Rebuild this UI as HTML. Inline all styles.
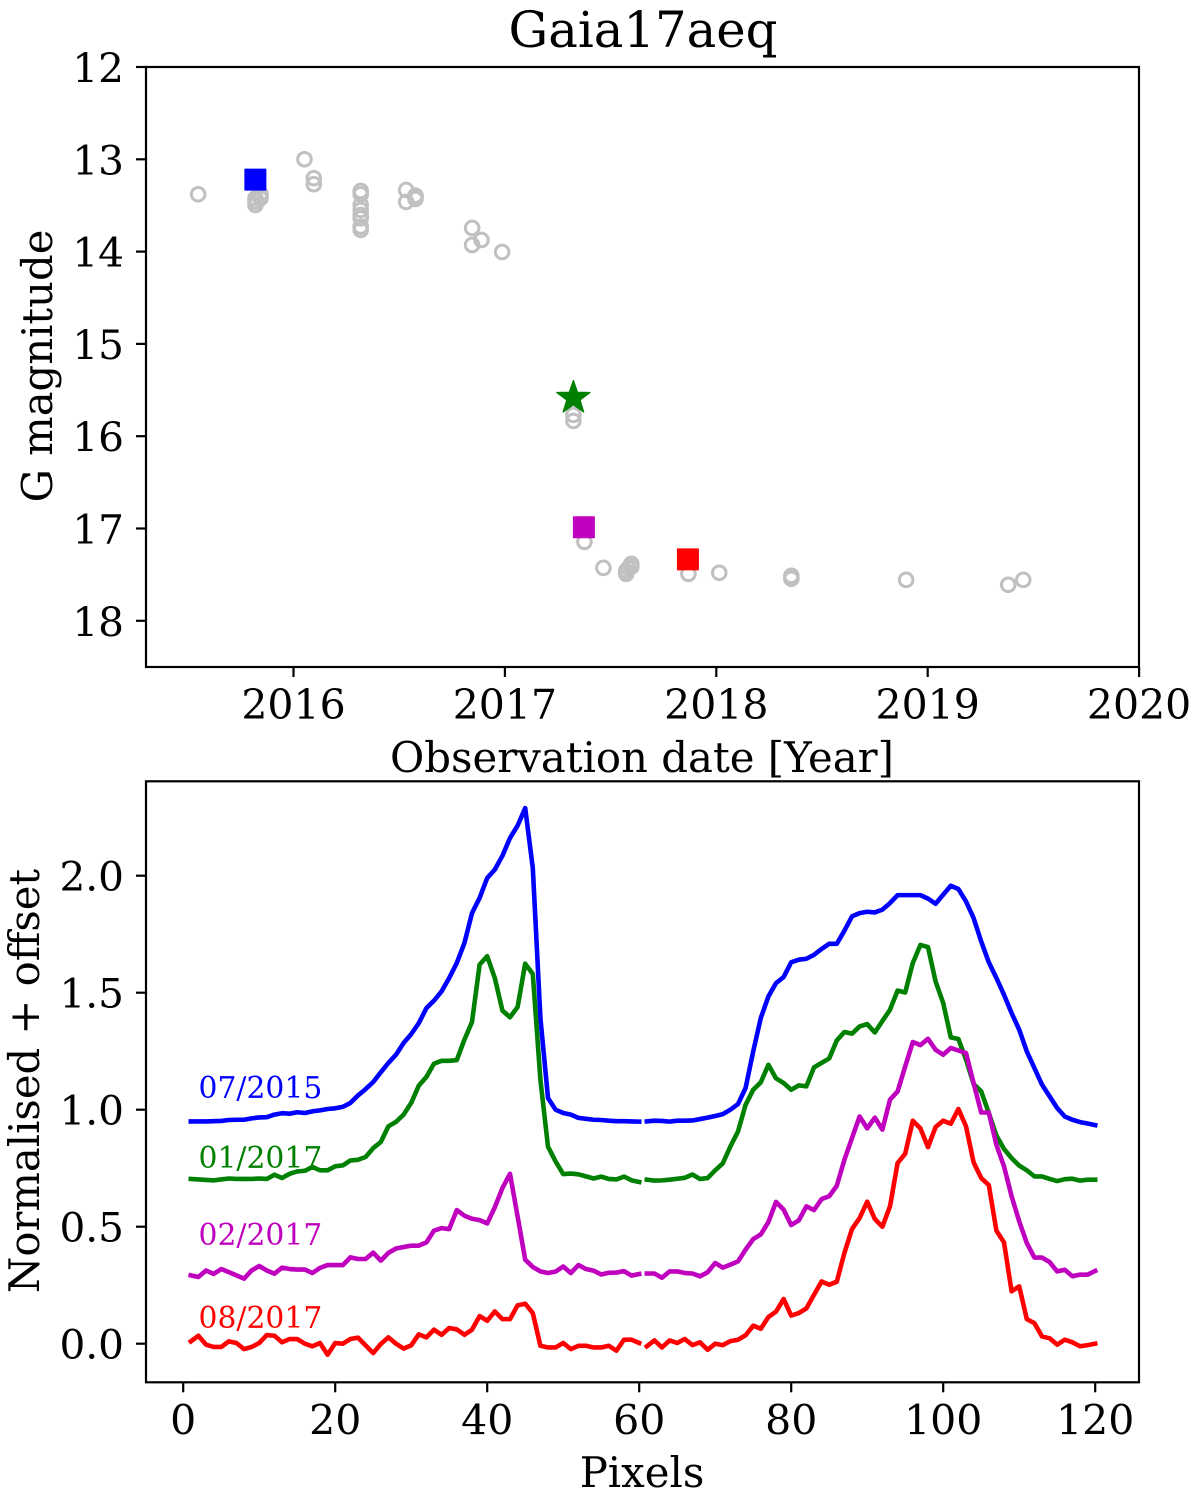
<!DOCTYPE html>
<html lang="en">
<head>
<meta charset="utf-8">
<title>Gaia17aeq</title>
<style>
html,body{margin:0;padding:0;background:#fff;}
svg{display:block;}
text{font-family:"DejaVu Serif","Liberation Serif",serif;fill:#000;}
</style>
</head>
<body>
<svg id="figure" width="1200" height="1494" viewBox="0 0 1200 1494" xmlns="http://www.w3.org/2000/svg">
  <rect x="0" y="0" width="1200" height="1494" fill="#fff"/>
  <text x="643" y="47" font-size="49.7" text-anchor="middle">Gaia17aeq</text>
  <text transform="translate(52,366) rotate(-90)" font-size="41.7" text-anchor="middle">G magnitude</text>
  <text x="642" y="772" font-size="41.8" text-anchor="middle">Observation date [Year]</text>
  <text transform="translate(39,1081) rotate(-90)" font-size="41.7" text-anchor="middle">Normalised + offset</text>
  <text x="642" y="1487" font-size="41.8" text-anchor="middle">Pixels</text>
  <g id="top-panel"></g>
  <g id="bottom-panel"></g>
  <text x="198.5" y="1098" font-size="29.8" style="fill:#0000ff">07/2015</text>
  <text x="198.5" y="1168" font-size="29.8" style="fill:#008000">01/2017</text>
  <text x="198.5" y="1245" font-size="29.8" style="fill:#bf00bf">02/2017</text>
  <text x="198.5" y="1328" font-size="29.8" style="fill:#ff0000">08/2017</text>
</svg>
<script>
// Light curve data
const obsDates = [2015.549,2015.82,2015.82,2015.82,2015.844,2015.844,2015.844,2016.052,2016.096,2016.096,2016.318,2016.318,2016.318,2016.318,2016.318,2016.318,2016.318,2016.318,2016.533,2016.533,2016.577,2016.577,2016.577,2016.845,2016.845,2016.889,2016.987,2017.324,2017.324,2017.376,2017.466,2017.574,2017.574,2017.584,2017.598,2017.598,2017.868,2018.014,2018.355,2018.355,2018.898,2019.381,2019.452];
const obsMags = [13.379,13.495,13.459,13.422,13.422,13.405,13.375,13.0,13.205,13.27,13.343,13.379,13.495,13.549,13.603,13.639,13.73,13.765,13.332,13.462,13.394,13.43,13.408,13.744,13.928,13.874,14.004,15.769,15.834,17.145,17.426,17.491,17.459,17.43,17.383,17.415,17.491,17.48,17.513,17.545,17.556,17.61,17.556];
const spectrumEpochDates = [2015.822,2017.324,2017.376,2017.868];
const spectrumEpochMags = [13.22,15.585,16.987,17.334];
const spectrumEpochShapes = ['square','star','square','square'];
const spectrumEpochColors = ['#0000ff','#008000','#bf00bf','#ff0000'];
const topYTicks = [12,13,14,15,16,17,18];
const topXTicks = [2016,2017,2018,2019,2020];

// Spectra data (pixels 1..120, with a break between pixels 60 and 61)
const pixelBreakAfter = 60;
const spectrumBlue = [0.95,0.95,0.95,0.951,0.952,0.956,0.957,0.957,0.963,0.967,0.968,0.979,0.985,0.983,0.989,0.986,0.993,0.997,1.003,1.006,1.012,1.029,1.061,1.088,1.118,1.16,1.2,1.235,1.285,1.323,1.37,1.434,1.466,1.506,1.563,1.627,1.712,1.84,1.905,1.99,2.026,2.085,2.161,2.214,2.289,2.033,1.392,1.05,1.0,0.986,0.979,0.965,0.961,0.957,0.956,0.953,0.951,0.951,0.95,0.949,0.95,0.953,0.952,0.949,0.953,0.953,0.954,0.96,0.966,0.973,0.981,1.0,1.024,1.093,1.249,1.392,1.484,1.541,1.567,1.63,1.641,1.645,1.662,1.687,1.709,1.709,1.765,1.826,1.84,1.846,1.843,1.855,1.883,1.917,1.917,1.917,1.917,1.902,1.88,1.919,1.957,1.943,1.89,1.819,1.719,1.63,1.563,1.491,1.413,1.342,1.249,1.178,1.107,1.057,1.007,0.971,0.957,0.947,0.941,0.934];
const spectrumGreen = [0.704,0.702,0.7,0.698,0.702,0.706,0.704,0.704,0.704,0.706,0.704,0.722,0.708,0.726,0.736,0.739,0.755,0.741,0.741,0.758,0.762,0.783,0.786,0.798,0.836,0.862,0.929,0.948,0.979,1.029,1.103,1.14,1.197,1.209,1.209,1.212,1.299,1.375,1.62,1.656,1.563,1.424,1.395,1.439,1.624,1.58,1.128,0.842,0.779,0.725,0.727,0.724,0.715,0.706,0.714,0.704,0.702,0.714,0.698,0.691,0.701,0.697,0.698,0.701,0.705,0.709,0.723,0.704,0.708,0.741,0.771,0.843,0.907,1.021,1.085,1.117,1.192,1.134,1.114,1.085,1.104,1.1,1.181,1.2,1.219,1.296,1.332,1.325,1.356,1.366,1.33,1.379,1.427,1.509,1.501,1.627,1.704,1.695,1.548,1.456,1.309,1.302,1.214,1.11,1.078,0.986,0.89,0.832,0.793,0.761,0.741,0.715,0.715,0.704,0.695,0.703,0.705,0.697,0.701,0.701];
const spectrumMagenta = [0.292,0.285,0.313,0.298,0.319,0.306,0.292,0.278,0.313,0.332,0.313,0.299,0.325,0.319,0.317,0.317,0.302,0.324,0.336,0.336,0.336,0.369,0.362,0.362,0.389,0.355,0.388,0.407,0.413,0.419,0.419,0.433,0.483,0.494,0.49,0.571,0.547,0.534,0.528,0.514,0.583,0.665,0.726,0.544,0.359,0.328,0.309,0.302,0.308,0.33,0.302,0.336,0.319,0.312,0.296,0.303,0.304,0.31,0.291,0.298,0.3,0.3,0.282,0.309,0.309,0.302,0.3,0.288,0.305,0.345,0.325,0.338,0.352,0.402,0.447,0.467,0.52,0.606,0.573,0.507,0.527,0.587,0.571,0.618,0.63,0.675,0.786,0.879,0.971,0.92,0.966,0.915,1.043,1.078,1.185,1.289,1.276,1.303,1.256,1.235,1.264,1.253,1.242,1.114,0.988,0.988,0.85,0.758,0.63,0.523,0.43,0.368,0.368,0.349,0.309,0.316,0.288,0.295,0.295,0.311];
const spectrumRed = [0.01,0.034,-0.004,-0.014,-0.014,0.01,0.003,-0.023,-0.014,0.003,0.037,0.034,0.006,0.02,0.02,0,-0.011,0.003,-0.047,0.003,0,0.02,0.026,-0.007,-0.04,-0.001,0.027,0,-0.021,-0.007,0.04,0.027,0.06,0.038,0.067,0.061,0.038,0.06,0.118,0.098,0.138,0.105,0.105,0.164,0.171,0.131,-0.009,-0.016,-0.016,0.003,-0.023,-0.009,-0.009,-0.016,-0.016,-0.009,-0.03,0.017,0.017,0.003,-0.011,0.014,-0.016,0.014,0.003,0.02,-0.006,0.006,-0.026,0,-0.006,0.011,0.017,0.036,0.077,0.064,0.114,0.137,0.191,0.12,0.131,0.151,0.209,0.266,0.252,0.265,0.388,0.49,0.537,0.607,0.533,0.5,0.587,0.772,0.812,0.953,0.92,0.84,0.926,0.953,0.94,1.003,0.929,0.775,0.708,0.678,0.483,0.433,0.224,0.245,0.105,0.088,0.031,0.023,-0.004,0.017,0.006,-0.011,-0.006,0];
const bottomYTicks = [0,0.5,1,1.5,2];
const bottomXTicks = [0,20,40,60,80,100,120];

const NS = 'http://www.w3.org/2000/svg';
const topPanel = document.getElementById('top-panel');
const bottomPanel = document.getElementById('bottom-panel');

// Axis functions
const topX = v => 293.5 + (v - 2016) * 211.4;
const topY = v => 67 + (v - 12) * 92.3;
const botX = v => 183.2 + v * 7.6;
const botY = v => 1343.7 - v * 234;

function mk(parent, tag, attrs) {
  const el = document.createElementNS(NS, tag);
  for (const k in attrs) el.setAttribute(k, attrs[k]);
  parent.appendChild(el);
  return el;
}

function drawFrame(parent, name, x, y, w, h) {
  const r = mk(parent, 'rect', {x: x, y: y, width: w, height: h, fill: 'none', stroke: '#000', 'stroke-width': 2.2});
  
  
}

function drawXTick(parent, px, axisY, label) {
  const t = mk(parent, 'line', {x1: px, x2: px, y1: axisY, y2: axisY + 10, stroke: '#000', 'stroke-width': 2.2});
  
  
  const s = mk(parent, 'text', {x: px, y: axisY + 52, 'font-size': 41, 'text-anchor': 'middle'});
  
  
  s.textContent = label;
}

function drawYTick(parent, py, axisX, label) {
  const t = mk(parent, 'line', {x1: axisX - 10, x2: axisX, y1: py, y2: py, stroke: '#000', 'stroke-width': 2.2});
  
  
  const s = mk(parent, 'text', {x: axisX - 22, y: py + 15, 'font-size': 40.6, 'text-anchor': 'end'});
  
  
  s.textContent = label;
}

// Top panel: gray observations
obsDates.forEach((d, i) => {
  const c = mk(topPanel, 'circle', {cx: topX(d), cy: topY(obsMags[i]), r: 6.8, fill: 'none', stroke: '#c0c0c0', 'stroke-width': 3});
  
  
});

// Top panel: spectrum epochs
spectrumEpochDates.forEach((d, i) => {
  const cx = topX(d) - 0.5, cy = topY(spectrumEpochMags[i]);
  let m;
  if (spectrumEpochShapes[i] === 'star') {
    const pts = [];
    for (let k = 0; k < 10; k++) {
      const rad = k % 2 === 0 ? 17.5 : 7;
      const a = -Math.PI / 2 + k * Math.PI / 5;
      pts.push((cx + 0.5 + rad * Math.cos(a)).toFixed(2) + ',' + (cy + rad * Math.sin(a)).toFixed(2));
    }
    m = mk(topPanel, 'polygon', {points: pts.join(' '), fill: spectrumEpochColors[i], stroke: spectrumEpochColors[i], 'stroke-width': 1.2, 'stroke-linejoin': 'round'});
    
  } else {
    m = mk(topPanel, 'rect', {x: cx - 11, y: cy - 11, width: 22, height: 22, rx: 0.8, fill: spectrumEpochColors[i]});
    
  }
  
});

drawFrame(topPanel, 'top-plot-frame', 146, 67, 993, 600);
topYTicks.forEach(v => drawYTick(topPanel, topY(v), 146, String(v)));
topXTicks.forEach(v => drawXTick(topPanel, topX(v), 667, String(v)));

// Bottom panel: spectra
function spectrumPath(values) {
  let d = '';
  values.forEach((v, i) => {
    const pixel = i + 1;
    const start = i === 0 || i === pixelBreakAfter;
    d += (start ? 'M' : 'L') + botX(pixel).toFixed(2) + ' ' + botY(v).toFixed(2);
  });
  return d;
}

const blueLine = mk(bottomPanel, 'path', {d: spectrumPath(spectrumBlue), fill: 'none', stroke: '#0000ff', 'stroke-width': 4.6, 'stroke-linecap': 'square', 'stroke-linejoin': 'round'});


const greenLine = mk(bottomPanel, 'path', {d: spectrumPath(spectrumGreen), fill: 'none', stroke: '#008000', 'stroke-width': 4.6, 'stroke-linecap': 'square', 'stroke-linejoin': 'round'});


const magentaLine = mk(bottomPanel, 'path', {d: spectrumPath(spectrumMagenta), fill: 'none', stroke: '#bf00bf', 'stroke-width': 4.6, 'stroke-linecap': 'square', 'stroke-linejoin': 'round'});


const redLine = mk(bottomPanel, 'path', {d: spectrumPath(spectrumRed), fill: 'none', stroke: '#ff0000', 'stroke-width': 4.6, 'stroke-linecap': 'square', 'stroke-linejoin': 'round'});



drawFrame(bottomPanel, 'bottom-plot-frame', 146, 781.3, 993, 601);
bottomYTicks.forEach(v => drawYTick(bottomPanel, botY(v), 146, v.toFixed(1)));
bottomXTicks.forEach(v => drawXTick(bottomPanel, botX(v), 1382.3, String(v)));
</script>
</body>
</html>
